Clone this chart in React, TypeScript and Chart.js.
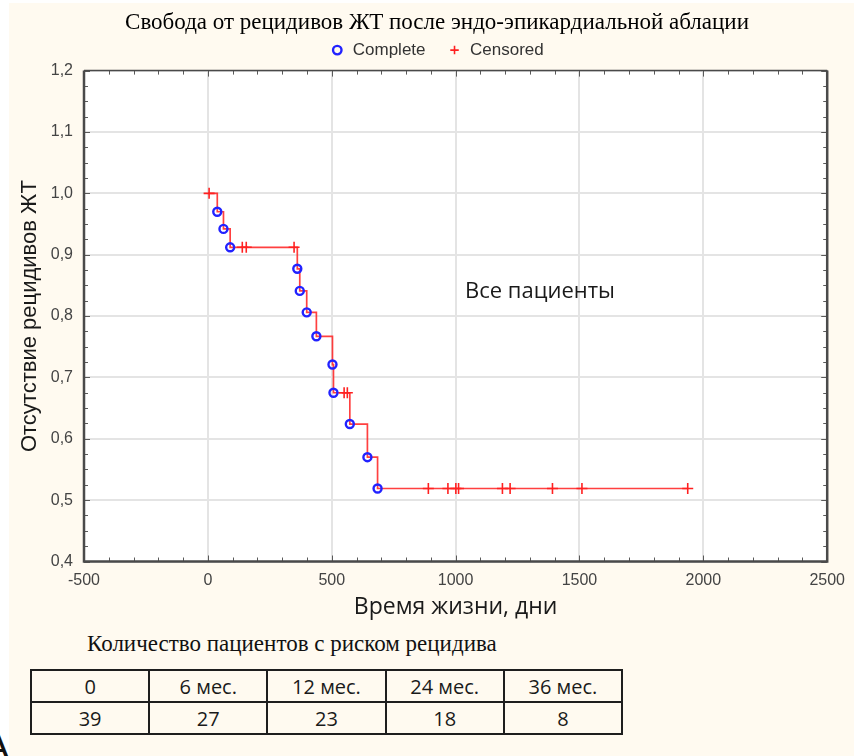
import React, { useEffect, useRef } from 'react';
import { Chart, registerables } from 'chart.js';
Chart.register(...registerables);

const chartTitle = 'Свобода от рецидивов ЖТ после эндо-эпикардиальной аблации';
const xAxisTitle = 'Время жизни, дни';
const yAxisTitle = 'Отсутствие рецидивов ЖТ';
const groupLabel = 'Все пациенты';
const completeLabel = 'Complete';
const censoredLabel = 'Censored';

// Kaplan–Meier step curve (days, survival)
const stepDays = [0, 38, 63, 90, 361, 371, 399, 438, 503, 507, 573, 644, 685, 1937];
const stepSurv = [1.0, 0.970, 0.942, 0.912, 0.877, 0.841, 0.806, 0.767, 0.721, 0.675, 0.624, 0.570, 0.519, 0.519];

// complete (event) observations
const completeDays = [38, 63, 90, 361, 371, 399, 438, 503, 507, 573, 644, 685];
const completeSurv = [0.970, 0.942, 0.912, 0.877, 0.841, 0.806, 0.767, 0.721, 0.675, 0.624, 0.570, 0.519];

// censored observations
const censoredDays = [5, 139, 155, 348, 550, 563, 890, 969, 1001, 1012, 1189, 1220, 1391, 1510, 1937];
const censoredSurv = [1.0, 0.912, 0.912, 0.912, 0.675, 0.675, 0.519, 0.519, 0.519, 0.519, 0.519, 0.519, 0.519, 0.519, 0.519];

const xMin = -500;
const xMax = 2500;
const xStep = 500;
const xMinorStep = 100;
const yMin = 0.4;
const yMax = 1.2;
const yStep = 0.1;
const yMinorStep = 0.025;

const labelPosDay = 1038;
const labelPosSurv = 0.839;

const riskTitle = 'Количество пациентов с риском рецидива';
const riskLabels = ['0', '6 мес.', '12 мес.', '24 мес.', '36 мес.'];
const riskCounts = [39, 27, 23, 18, 8];

const toXY = (xs: number[], ys: number[]) => xs.map((x, i) => ({ x, y: ys[i] }));

const framePlugin = {
  id: 'frame',
  beforeDraw(chart: any) {
    const { ctx, chartArea: a } = chart;
    ctx.save();
    ctx.fillStyle = '#ffffff';
    ctx.fillRect(a.left, a.top, a.right - a.left, a.bottom - a.top);
    ctx.restore();
  },
  afterDraw(chart: any) {
    const { ctx, chartArea: a, scales } = chart;
    const xs = scales.x;
    const ys = scales.y;
    ctx.save();
    ctx.strokeStyle = '#5a5a5a';
    ctx.lineWidth = 1;
    ctx.beginPath();
    for (let v = xMin; v <= xMax + 1e-9; v += xMinorStep) {
      const px = Math.round(xs.getPixelForValue(v)) + 0.5;
      const len = v % xStep === 0 ? 6 : 4;
      ctx.moveTo(px, a.bottom);
      ctx.lineTo(px, a.bottom - len);
      ctx.moveTo(px, a.top);
      ctx.lineTo(px, a.top + len);
    }
    const n = Math.round((yMax - yMin) / yMinorStep);
    for (let i = 0; i <= n; i++) {
      const v = yMin + i * yMinorStep;
      const py = Math.round(ys.getPixelForValue(v)) + 0.5;
      const len = i % 4 === 0 ? 6 : 4;
      ctx.moveTo(a.left, py);
      ctx.lineTo(a.left + len, py);
      ctx.moveTo(a.right, py);
      ctx.lineTo(a.right - len, py);
    }
    ctx.stroke();
    // frame
    ctx.strokeStyle = '#4a4a4a';
    ctx.lineWidth = 2.5;
    ctx.beginPath();
    ctx.moveTo(a.left, a.top);
    ctx.lineTo(a.left, a.bottom);
    ctx.lineTo(a.right, a.bottom);
    ctx.lineTo(a.right, a.top);
    ctx.stroke();
    ctx.lineWidth = 1.5;
    ctx.beginPath();
    ctx.moveTo(a.left, a.top);
    ctx.lineTo(a.right, a.top);
    ctx.stroke();
    // group label
    ctx.fillStyle = '#1a1a1a';
    ctx.font = '22px "Open Sans", sans-serif';
    ctx.textAlign = 'left';
    ctx.textBaseline = 'middle';
    ctx.fillText(groupLabel, xs.getPixelForValue(labelPosDay), ys.getPixelForValue(labelPosSurv));
    ctx.restore();
  },
};

function KMChart() {
  const ref = useRef<HTMLCanvasElement | null>(null);
  useEffect(() => {
    if (!ref.current) return;
    const chart = new Chart(ref.current, {
      type: 'scatter',
      data: {
        datasets: [
          {
            type: 'line',
            label: 'KM',
            data: toXY(stepDays, stepSurv),
            stepped: 'before',
            borderColor: 'rgba(255,30,30,0.85)',
            borderWidth: 1.7,
            pointRadius: 0,
            fill: false,
            order: 2,
          } as any,
          {
            type: 'scatter',
            label: completeLabel,
            data: toXY(completeDays, completeSurv),
            pointStyle: 'circle',
            pointRadius: 4,
            borderColor: '#2222ff',
            backgroundColor: 'rgba(0,0,0,0)',
            borderWidth: 2.4,
            order: 0,
          },
          {
            type: 'scatter',
            label: censoredLabel,
            data: toXY(censoredDays, censoredSurv),
            pointStyle: 'cross',
            pointRadius: 5.5,
            borderColor: '#ff2020',
            backgroundColor: '#ff2020',
            borderWidth: 1.6,
            order: 1,
          },
        ],
      },
      options: {
        responsive: false,
        animation: false,
        devicePixelRatio: 1,
        layout: { padding: { left: 45, right: 25, top: 0, bottom: 0 } },
        plugins: {
          title: {
            display: true,
            text: chartTitle,
            color: '#000',
            font: { family: '"Liberation Serif", serif', size: 23, weight: 'normal' },
            padding: { top: 9, bottom: -17 },
          },
          legend: {
            display: true,
            labels: {
              filter: (item: any) => item.datasetIndex > 0,
              usePointStyle: true,
              boxWidth: 14,
              boxHeight: 6,
              padding: 22,
              color: '#333',
              font: { family: '"Liberation Sans", Arial, sans-serif', size: 17 },
            },
          },
          tooltip: { enabled: false },
        },
        scales: {
          x: {
            type: 'linear',
            min: xMin,
            max: xMax,
            ticks: {
              stepSize: xStep,
              padding: 9,
              color: '#444',
              font: { family: '"Liberation Sans", Arial, sans-serif', size: 16 },
              callback: (v: any) => String(v),
            },
            grid: { color: '#e4e4e4', lineWidth: 2, drawTicks: false },
            border: { display: false },
            title: {
              display: true,
              text: xAxisTitle,
              color: '#1a1a1a',
              font: { family: '"Open Sans", sans-serif', size: 23 },
              padding: { top: 0, bottom: 9 },
            },
            afterFit: (s: any) => {
              s.height = 68.5;
            },
          },
          x2: {
            type: 'linear',
            position: 'top',
            display: true,
            grid: { display: false, drawTicks: false },
            ticks: { display: false },
            border: { display: false },
            afterFit: (s: any) => {
              s.height = 2;
            },
          },
          y: {
            type: 'linear',
            min: yMin,
            max: yMax,
            ticks: {
              stepSize: yStep,
              padding: 11,
              color: '#444',
              font: { family: '"Liberation Sans", Arial, sans-serif', size: 16 },
              callback: (v: any) => Number(v).toFixed(1).replace('.', ','),
            },
            grid: { color: '#e4e4e4', lineWidth: 2, drawTicks: false },
            border: { display: false },
            title: {
              display: true,
              text: yAxisTitle,
              color: '#1a1a1a',
              font: { family: '"Liberation Sans", Arial, sans-serif', size: 22 },
              padding: { top: -28, bottom: 0 },
            },
            afterFit: (s: any) => {
              s.width = 39;
            },
          },
        },
      },
      plugins: [framePlugin],
    });
    return () => chart.destroy();
  }, []);
  return (
    <canvas
      ref={ref}
      width={854}
      height={630}
      style={{ position: 'absolute', left: 0, top: 0, width: 854, height: 630 }}
    />
  );
}

const cellStyle: React.CSSProperties = {
  border: '2px solid #1e1e1e',
  textAlign: 'center',
  verticalAlign: 'middle',
  padding: 0,
  height: 30,
  fontFamily: '"Open Sans", sans-serif',
  fontSize: 20,
  color: '#1a1a1a',
};

export default function App() {
  return (
    <div
      style={{
        position: 'absolute',
        left: 0,
        top: 0,
        width: 854,
        height: 756,
        overflow: 'hidden',
        background: '#ffffff',
      }}
    >
      <div style={{ position: 'absolute', left: 9, top: 3, right: 0, bottom: 0, background: '#fffaf0' }} />
      <KMChart />
      <div
        style={{
          position: 'absolute',
          left: 87,
          top: 631,
          fontFamily: '"Liberation Serif", serif',
          fontSize: 23,
          color: '#111',
          whiteSpace: 'nowrap',
        }}
      >
        {riskTitle}
      </div>
      <table
        style={{
          position: 'absolute',
          left: 30,
          top: 669,
          width: 593,
          borderCollapse: 'collapse',
          tableLayout: 'fixed',
        }}
      >
        <tbody>
          <tr>
            {riskLabels.map((l, i) => (
              <td key={i} style={cellStyle}>
                {l}
              </td>
            ))}
          </tr>
          <tr>
            {riskCounts.map((c, i) => (
              <td key={i} style={cellStyle}>
                {c}
              </td>
            ))}
          </tr>
        </tbody>
      </table>
      <div
        style={{
          position: 'absolute',
          left: -17,
          top: 726,
          fontFamily: '"Liberation Sans", Arial, sans-serif',
          fontSize: 40,
          lineHeight: 1,
          color: '#111',
        }}
      >
        A
      </div>
    </div>
  );
}
